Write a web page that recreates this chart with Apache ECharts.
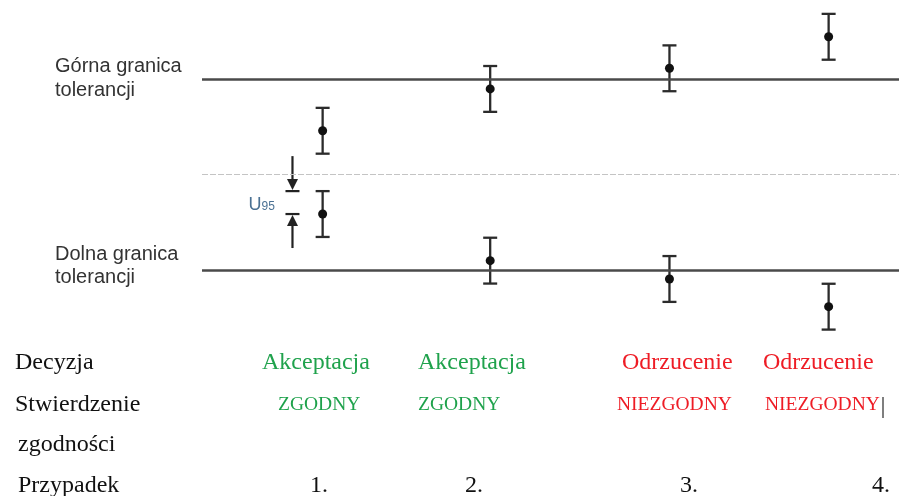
<!DOCTYPE html>
<html>
<head>
<meta charset="utf-8">
<script src="https://cdn.jsdelivr.net/npm/echarts@6/dist/echarts.min.js"></script>
<style>
    html, body { margin: 0; padding: 0; background: #fff; }
    #main { width: 899px; height: 496px; }
</style>
</head>
<body>
<div id="main"></div>
<script>
// granice tolerancji i linia środkowa
var upperTol = 10;
var lowerTol = 0;
var midLine = 5;
// niepewność rozszerzona (połowa słupka)
var U95 = 1.2;
// położenie przypadków na osi x
var caseX = [1, 2, 3.07, 4.02];
// wyniki pomiarów przy górnej i dolnej granicy
var upperMeas = [7.29, 9.48, 10.56, 12.21];
var lowerMeas = [2.93, 0.49, -0.47, -1.92];
// tabela pod wykresem
var decisions = ['Akceptacja', 'Akceptacja', 'Odrzucenie', 'Odrzucenie'];
var statements = ['ZGODNY', 'ZGODNY', 'NIEZGODNY', 'NIEZGODNY'];
var cases = ['1.', '2.', '3.', '4.'];
var verdictOk = [true, true, false, false];
// strzałki U95 przy przypadku 1
var arrowX = 0.82;

var GREEN = '#1fa24c';
var RED = '#ee1c25';
var SERIF = '"Liberation Serif", "Times New Roman", serif';
var SANS = '"Liberation Sans", Arial, sans-serif';

/**
 * rysuje słupek niepewności z punktem pomiaru
 */
function renderErrorBar(params, api) {
    var x = api.value(0);
    var c = api.coord([x, api.value(1)]);
    var hi = api.coord([x, api.value(1) + api.value(2)]);
    var lo = api.coord([x, api.value(1) - api.value(2)]);
    var hw = 7;
    var st = {stroke: '#2b2b2b', lineWidth: 2.3};
    return {
        type: 'group',
        children: [
            {type: 'line', shape: {x1: c[0], y1: hi[1], x2: c[0], y2: lo[1]}, style: st},
            {type: 'line', shape: {x1: c[0] - hw, y1: hi[1], x2: c[0] + hw, y2: hi[1]}, style: st},
            {type: 'line', shape: {x1: c[0] - hw, y1: lo[1], x2: c[0] + hw, y2: lo[1]}, style: st},
            {type: 'circle', shape: {cx: c[0], cy: c[1], r: 4.5}, style: {fill: '#111'}}
        ]
    };
}

/**
 * rysuje strzałki oznaczające U95
 */
function renderArrows(params, api) {
    var x = api.value(0);
    var c = api.coord([x, api.value(1)]);
    var hi = api.coord([x, api.value(1) + api.value(2)]);
    var px = c[0];
    var st = {stroke: '#222', lineWidth: 2.2};
    var topTip = hi[1] - 1;
    var botTip = c[1] + 1;
    return {
        type: 'group',
        children: [
            {type: 'line', shape: {x1: px, y1: topTip - 34, x2: px, y2: topTip - 6}, style: st},
            {type: 'polygon', shape: {points: [[px - 5.5, topTip - 11], [px + 5.5, topTip - 11], [px, topTip]]}, style: {fill: '#222'}},
            {type: 'line', shape: {x1: px - 7, y1: topTip + 1, x2: px + 7, y2: topTip + 1}, style: st},
            {type: 'line', shape: {x1: px, y1: botTip + 6, x2: px, y2: botTip + 33}, style: st},
            {type: 'polygon', shape: {points: [[px - 5.5, botTip + 11], [px + 5.5, botTip + 11], [px, botTip]]}, style: {fill: '#222'}},
            {type: 'line', shape: {x1: px - 7, y1: botTip - 1, x2: px + 7, y2: botTip - 1}, style: st},
            {
                type: 'text',
                x: px - 44, y: (topTip + botTip) / 2 + 2,
                style: {
                    text: '{u|U}{s|95}',
                    verticalAlign: 'middle',
                    rich: {
                        u: {font: '18px ' + SANS, fill: '#4b7193'},
                        s: {font: '12px ' + SANS, fill: '#4b7193', padding: [4, 0, 0, 0]}
                    }
                }
            }
        ]
    };
}

function buildGraphic() {
    var g = [];
    function txt(x, y, text, font, color) {
        g.push({type: 'text', x: x, y: y, style: {text: text, font: font, fill: color, verticalAlign: 'middle'}});
    }
    // opisy granic
    txt(55, 66, 'Górna granica', '20px ' + SANS, '#333');
    txt(55, 90, 'tolerancji', '20px ' + SANS, '#333');
    txt(55, 254, 'Dolna granica', '20px ' + SANS, '#333');
    txt(55, 277, 'tolerancji', '20px ' + SANS, '#333');
    // wiersze tabeli
    txt(15, 363, 'Decyzja', '24px ' + SERIF, '#111');
    txt(15, 405, 'Stwierdzenie', '24px ' + SERIF, '#111');
    txt(18, 445, 'zgodności', '24px ' + SERIF, '#111');
    txt(18, 486, 'Przypadek', '24px ' + SERIF, '#111');
    var decX = [262, 418, 622, 763];
    var stX = [278, 418, 617, 765];
    var caseLabelX = [310, 465, 680, 872];
    for (var i = 0; i < cases.length; i++) {
        var col = verdictOk[i] ? GREEN : RED;
        txt(decX[i], 363, decisions[i], '24px ' + SERIF, col);
        txt(stX[i], 405, statements[i], '19.5px ' + SERIF, col);
        txt(caseLabelX[i], 486, cases[i], '24px ' + SERIF, '#111');
    }
    // kursor tekstowy
    g.push({type: 'line', shape: {x1: 883, y1: 397, x2: 883, y2: 418}, style: {stroke: '#555', lineWidth: 1.5}});
    return g;
}

var barData = [];
for (var i = 0; i < caseX.length; i++) {
    barData.push([caseX[i], upperMeas[i], U95]);
    barData.push([caseX[i], lowerMeas[i], U95]);
}

var myChart = echarts.init(document.getElementById('main'), null, {renderer: 'canvas'});
var option = {
    animation: false,
    grid: {left: 202, right: 0, top: 2.6, height: 343.8},
    xAxis: {type: 'value', min: 0.28, max: 4.44, show: false},
    yAxis: {type: 'value', min: -4, max: 14, show: false},
    series: [{
        type: 'custom',
        renderItem: renderErrorBar,
        data: barData,
        clip: false,
        z: 3,
        markLine: {
            silent: true,
            symbol: 'none',
            label: {show: false},
            data: [
                {yAxis: upperTol, lineStyle: {color: '#4a4a4a', width: 2.5, type: 'solid'}},
                {yAxis: lowerTol, lineStyle: {color: '#4a4a4a', width: 2.5, type: 'solid'}},
                {yAxis: midLine, lineStyle: {color: '#c4c4c4', width: 1, type: [6, 2]}}
            ]
        }
    }, {
        type: 'custom',
        renderItem: renderArrows,
        data: [[arrowX, lowerMeas[0], U95]],
        clip: false,
        z: 3
    }],
    graphic: buildGraphic()
};
if (option && typeof option === "object") {
    myChart.setOption(option, true);
}
</script>
</body>
</html>
